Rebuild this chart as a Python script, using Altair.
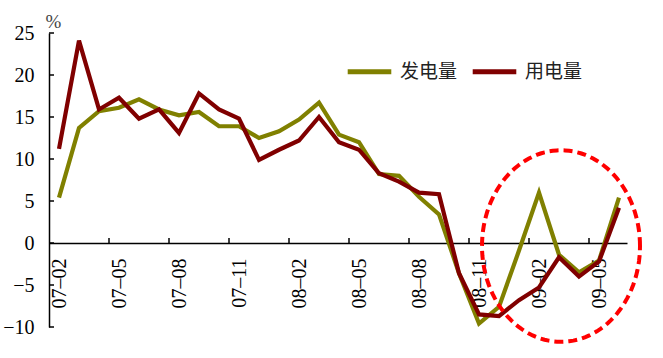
import altair as alt
import numpy as np
import pandas as pd

months = ["07–02", "07–03", "07–04", "07–05", "07–06", "07–07", "07–08", "07–09", "07–10",
          "07–11", "07–12", "08–01", "08–02", "08–03", "08–04", "08–05", "08–06", "08–07",
          "08–08", "08–09", "08–10", "08–11", "08–12", "09–01", "09–02", "09–03", "09–04",
          "09–05", "09–06"]
generation = [5.4, 13.7, 15.7, 16.1, 17.1, 15.9, 15.2, 15.6, 13.9, 13.9, 12.5, 13.3, 14.7,
              16.7, 12.9, 12.0, 8.2, 8.0, 5.5, 3.4, -3.6, -9.6, -7.6, -0.9, 6.0, -1.4, -3.5,
              -2.1, 5.4]
consumption = [11.2, 24.1, 15.9, 17.3, 14.8, 15.9, 13.1, 17.8, 15.9, 14.8, 9.9, 11.1, 12.2,
               15.0, 12.0, 11.1, 8.3, 7.3, 6.0, 5.8, -3.6, -8.5, -8.7, -6.8, -5.3, -1.7, -4.0,
               -2.2, 4.2]
series_names = ["发电量", "用电量"]
series_colors = ["#808000", "#800000"]
label_idx = [0, 3, 6, 9, 12, 15, 18, 21, 24, 27]
tick_pos = [2.5, 5.5, 8.5, 11.5, 14.5, 17.5, 20.5, 23.5, 26.5]
y_ticks = [-10, -5, 0, 5, 10, 15, 20, 25]

# highlight ellipse (annotation) in data units
ell_cx, ell_cy, ell_rx, ell_ry = 25.1, -0.36, 3.95, 11.4

rows = []
for name, vals in zip(series_names, [generation, consumption]):
    for i, v in enumerate(vals):
        rows.append({"i": i, "v": v, "s": name})
df = pd.DataFrame(rows)

t = np.linspace(0, 2 * np.pi, 121)
ell = pd.DataFrame({"ex": ell_cx + ell_rx * np.cos(t), "ey": ell_cy + ell_ry * np.sin(t),
                    "o": np.arange(len(t))})

xs = alt.Scale(domain=[-0.5, 28.4], nice=False, zero=False)
ys = alt.Scale(domain=[-10, 25], nice=False, zero=False)

label_expr = "[" + ",".join("'%s'" % m for m in months) + "][datum.value]"

SERIF = "Liberation Serif"

xaxis = alt.Axis(
    orient="bottom", offset=-84, values=label_idx, labelExpr=label_expr,
    labelAngle=270, labelFont=SERIF, labelFontSize=20, labelColor="#000",
    labelPadding=15, ticks=False, grid=False, domainColor="#000", domainWidth=1.5,
    title=None, labelOverlap=False, labelBound=False, labelFlush=False)
yaxis = alt.Axis(
    values=y_ticks, format="d", labelFont=SERIF, labelFontSize=20, labelColor="#000",
    labelPadding=15, ticks=False, grid=False, domainColor="#000", domainWidth=1.5,
    title="%", titleAngle=0, titleX=4, titleY=-6, titleAlign="center",
    titleBaseline="alphabetic", titleFont=SERIF, titleFontSize=19,
    titleFontWeight="normal", titleColor="#444")

lines = alt.Chart(df).mark_line(strokeWidth=4.2, strokeJoin="miter").encode(
    x=alt.X("i:Q", scale=xs, axis=xaxis),
    y=alt.Y("v:Q", scale=ys, axis=yaxis),
    color=alt.Color("s:N", scale=alt.Scale(domain=series_names, range=series_colors),
                    sort=series_names,
                    legend=alt.Legend(title=None, orient="none", legendX=296, legendY=14,
                                      direction="horizontal", symbolType="stroke",
                                      symbolSize=1900, symbolStrokeWidth=5,
                                      labelFont="Noto Sans CJK SC", labelFontSize=19,
                                      labelColor="#222", labelOffset=6, columnPadding=4,
                                      padding=0)),
)

xticks = alt.Chart(pd.DataFrame({"t": tick_pos})).mark_rule(color="#000", strokeWidth=1.5).encode(
    x=alt.X("t:Q", scale=xs, axis=xaxis),
    y=alt.Y(datum=0, scale=ys, axis=yaxis),
    y2=alt.Y2(datum=0.6),
)

yticks = alt.Chart(pd.DataFrame({"yt": y_ticks})).mark_rule(color="#000", strokeWidth=1.5).encode(
    y=alt.Y("yt:Q", scale=ys, axis=yaxis),
    x=alt.value(0),
    x2=alt.value(5),
)

ellipse = alt.Chart(ell).mark_line(color="#ff0000", strokeWidth=4, strokeDash=[9, 5]).encode(
    x=alt.X("ex:Q", scale=xs, axis=xaxis),
    y=alt.Y("ey:Q", scale=ys, axis=yaxis),
    order="o:Q",
)

chart = alt.layer(xticks, yticks, lines, ellipse).properties(
    width=578, height=294,
    autosize=alt.AutoSizeParams(type="none"),
    padding={"left": 49, "top": 33, "right": 36, "bottom": 31},
    background="white",
).configure_view(stroke=None)

chart.save("out.html", embed_options={"renderer": "svg", "actions": False})
